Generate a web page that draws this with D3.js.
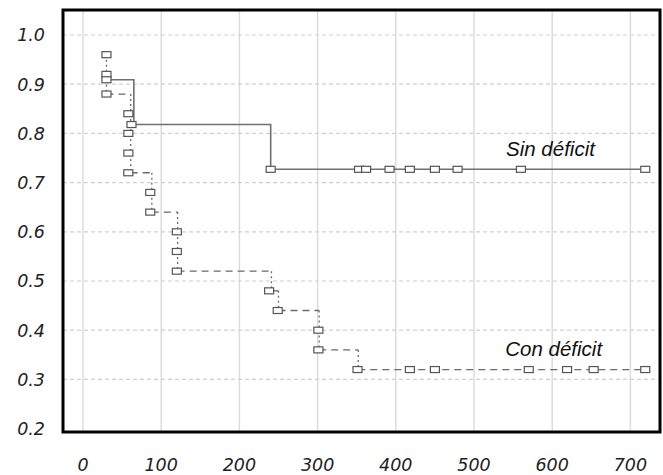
<!DOCTYPE html>
<html>
<head>
<meta charset="utf-8">
<script src="https://cdn.jsdelivr.net/npm/d3@7"></script>
<style>
  html, body { margin: 0; padding: 0; background: #fff; }
  svg { display: block; }
</style>
</head>
<body>
<svg id="chart" width="663" height="475"></svg>
<script>
// ---- data ----
const xTicks = [0, 100, 200, 300, 400, 500, 600, 700];
const yTicks = [0.2, 0.3, 0.4, 0.5, 0.6, 0.7, 0.8, 0.9, 1.0];
const yTickLabels = ["0.2", "0.3", "0.4", "0.5", "0.6", "0.7", "0.8", "0.9", "1.0"];

// Sin déficit (solid step line)
const sinStepTimes  = [30, 65, 240, 719];
const sinStepValues = [0.909, 0.818, 0.727, 0.727];
const sinMarkTimes  = [30, 62, 240, 353, 362, 392, 418, 450, 479, 560, 719];
const sinMarkValues = [0.909, 0.818, 0.727, 0.727, 0.727, 0.727, 0.727, 0.727, 0.727, 0.727, 0.727];

// Con déficit (dashed step line)
const conStepTimes  = [30, 30, 61, 88, 121, 241, 250, 302, 352, 719];
const conStepValues = [0.96, 0.88, 0.72, 0.64, 0.52, 0.48, 0.44, 0.36, 0.32, 0.32];
const conMarkTimes  = [30, 30, 30, 58, 58, 58, 58, 86, 86, 120, 120, 120, 238, 249, 301, 301, 351, 418, 450, 570, 619, 653, 719];
const conMarkValues = [0.96, 0.92, 0.88, 0.84, 0.80, 0.76, 0.72, 0.68, 0.64, 0.60, 0.56, 0.52, 0.48, 0.44, 0.40, 0.36, 0.32, 0.32, 0.32, 0.32, 0.32, 0.32, 0.32];

const labels = [
  { text: "Sin déficit", t: 541, v: 0.755 },
  { text: "Con déficit", t: 540, v: 0.348 }
];

// ---- layout ----
const frame = { left: 63, right: 660, top: 10, bottom: 432 };
const svg = d3.select("#chart");
const x = d3.scaleLinear().domain([0, 700]).range([83, 630.4]);
const y = d3.scaleLinear().domain([0.2, 1.0]).range([428.6, 35]);

// gridlines
const grid = svg.append("g");
grid.selectAll("line.v").data(xTicks).join("line")
  .attr("x1", d => x(d)).attr("x2", d => x(d))
  .attr("y1", frame.top).attr("y2", frame.bottom)
  .attr("stroke", "#dcdcdc").attr("stroke-width", 1.5);
grid.selectAll("line.h").data(yTicks.filter(d => d > 0.2)).join("line")
  .attr("x1", frame.left).attr("x2", frame.right)
  .attr("y1", d => y(d)).attr("y2", d => y(d))
  .attr("stroke", "#d0d0d0").attr("stroke-width", 1.2)
  .attr("stroke-dasharray", "4,3");

// step segments helper
function segments(ts, vs) {
  const h = [], v = [];
  for (let i = 0; i < ts.length - 1; i++) {
    if (ts[i + 1] !== ts[i]) h.push([ts[i], ts[i + 1], vs[i]]);
    if (vs[i + 1] !== vs[i]) v.push([ts[i + 1], vs[i], vs[i + 1]]);
  }
  return { h, v };
}

// Sin déficit line
const sinPts = sinStepTimes.map((t, i) => [t, sinStepValues[i]]);
svg.append("path")
  .attr("d", d3.line().x(d => x(d[0])).y(d => y(d[1])).curve(d3.curveStepAfter)(sinPts))
  .attr("fill", "none").attr("stroke", "#707070").attr("stroke-width", 1.6);

// Con déficit line
const cs = segments(conStepTimes, conStepValues);
svg.append("g").selectAll("line").data(cs.h).join("line")
  .attr("x1", d => x(d[0])).attr("x2", d => x(d[1]))
  .attr("y1", d => y(d[2])).attr("y2", d => y(d[2]))
  .attr("stroke", "#6a6a6a").attr("stroke-width", 1.3)
  .attr("stroke-dasharray", "7,5");
svg.append("g").selectAll("line").data(cs.v).join("line")
  .attr("x1", d => x(d[0])).attr("x2", d => x(d[0]))
  .attr("y1", d => y(d[1])).attr("y2", d => y(d[2]))
  .attr("stroke", "#6a6a6a").attr("stroke-width", 1.3)
  .attr("stroke-dasharray", "2,3");

// markers
function markers(ts, vs) {
  const g = svg.append("g");
  g.selectAll("rect").data(ts.map((t, i) => [t, vs[i]])).join("rect")
    .attr("x", d => x(d[0]) - 4.5).attr("y", d => y(d[1]) - 3)
    .attr("width", 9).attr("height", 6)
    .attr("fill", "#fff").attr("stroke", "#555").attr("stroke-width", 1.2);
}
markers(conMarkTimes, conMarkValues);
markers(sinMarkTimes, sinMarkValues);

// frame
svg.append("rect")
  .attr("x", frame.left).attr("y", frame.top)
  .attr("width", frame.right - frame.left).attr("height", frame.bottom - frame.top)
  .attr("fill", "none").attr("stroke", "#000").attr("stroke-width", 3);

// axis labels
svg.append("g").selectAll("text").data(yTicks).join("text")
  .attr("x", 45).attr("y", d => y(d)).attr("dy", "0.36em")
  .attr("text-anchor", "end")
  .attr("font-family", "DejaVu Sans").attr("font-style", "italic")
  .attr("font-size", 17.5).attr("fill", "#222")
  .text((d, i) => yTickLabels[i]);
svg.append("g").selectAll("text").data(xTicks).join("text")
  .attr("x", d => x(d)).attr("y", 471)
  .attr("text-anchor", "middle")
  .attr("font-family", "DejaVu Sans").attr("font-style", "italic")
  .attr("font-size", 17.5).attr("fill", "#222")
  .text(d => d);

// series labels
svg.append("g").selectAll("text").data(labels).join("text")
  .attr("x", d => x(d.t)).attr("y", d => y(d.v))
  .attr("font-family", "Liberation Sans, Arial").attr("font-style", "italic")
  .attr("font-size", 20.5).attr("fill", "#111")
  .text(d => d.text);
</script>
</body>
</html>
